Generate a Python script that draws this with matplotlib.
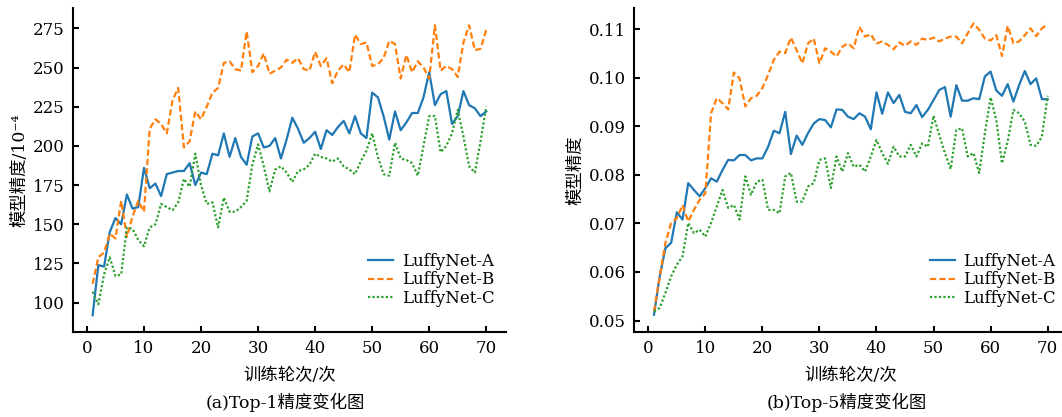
import numpy as np
import matplotlib
matplotlib.use("Agg")
import matplotlib.pyplot as plt

plt.rcParams['font.family'] = ['DejaVu Serif', 'Noto Sans CJK SC']
plt.rcParams['axes.unicode_minus'] = False

epochs = list(range(1, 71))
series_names = ["LuffyNet-A", "LuffyNet-B", "LuffyNet-C"]

# Top-1 (x10^-4)
top1_a = [92, 124, 123, 145, 154, 150, 169, 160, 161, 186,
          173, 176, 168, 182, 183, 184, 184, 189, 175, 183,
          182, 195, 194, 208, 193, 205, 193, 188, 206, 208,
          199, 200, 205, 192, 204, 218, 211, 202, 205, 209,
          198, 210, 207, 212, 216, 208, 219, 208, 205, 234,
          231, 219, 204, 222, 210, 215, 221, 221, 231, 247,
          226, 233, 235, 214, 219, 235, 226, 224, 219, 222]
top1_b = [112, 129, 132, 144, 141, 165, 142, 155, 165, 158,
          211, 217, 214, 208, 229, 237, 199, 203, 222, 217,
          225, 234, 237, 253, 254, 249, 248, 273, 247, 251,
          259, 246, 248, 250, 255, 253, 256, 249, 248, 260,
          251, 256, 240, 248, 252, 247, 271, 265, 266, 251,
          252, 256, 267, 265, 243, 258, 247, 254, 250, 243,
          277, 248, 251, 249, 244, 266, 277, 261, 262, 274]
top1_c = [107, 99, 118, 129, 117, 118, 148, 147, 140, 136,
          148, 150, 163, 161, 159, 164, 179, 174, 195, 175,
          163, 164, 148, 167, 158, 158, 161, 165, 188, 201,
          187, 171, 185, 187, 183, 177, 184, 185, 188, 195,
          193, 192, 190, 192, 187, 185, 182, 190, 197, 208,
          193, 182, 181, 202, 192, 191, 189, 181, 200, 219,
          219, 196, 200, 208, 223, 206, 187, 183, 203, 225]

# Top-5
top5_a = [0.0512, 0.0591, 0.0649, 0.0660, 0.0723, 0.0708, 0.0783, 0.0769, 0.0756, 0.0773,
          0.0793, 0.0786, 0.0810, 0.0831, 0.0830, 0.0841, 0.0841, 0.0830, 0.0834, 0.0834,
          0.0858, 0.0891, 0.0886, 0.0930, 0.0843, 0.0881, 0.0862, 0.0886, 0.0906, 0.0915,
          0.0913, 0.0898, 0.0935, 0.0934, 0.0920, 0.0915, 0.0927, 0.0920, 0.0894, 0.0970,
          0.0926, 0.0970, 0.0948, 0.0965, 0.0930, 0.0927, 0.0944, 0.0919, 0.0934, 0.0954,
          0.0975, 0.0981, 0.0920, 0.0985, 0.0953, 0.0953, 0.0958, 0.0956, 0.1003, 0.1013,
          0.0974, 0.0963, 0.0987, 0.0951, 0.0985, 0.1014, 0.0987, 0.0999, 0.0956, 0.0956]
top5_b = [0.0519, 0.0591, 0.0660, 0.0701, 0.0711, 0.0738, 0.0704, 0.0728, 0.0749, 0.0762,
          0.0927, 0.0958, 0.0948, 0.0935, 0.1011, 0.0999, 0.0941, 0.0958, 0.0963, 0.0979,
          0.1006, 0.1037, 0.1054, 0.1051, 0.1083, 0.1057, 0.1030, 0.1071, 0.1081, 0.1030,
          0.1061, 0.1054, 0.1044, 0.1064, 0.1071, 0.1061, 0.1105, 0.1085, 0.1090, 0.1071,
          0.1075, 0.1068, 0.1059, 0.1073, 0.1066, 0.1075, 0.1068, 0.1081, 0.1078, 0.1083,
          0.1075, 0.1081, 0.1085, 0.1085, 0.1071, 0.1092, 0.1112, 0.1099, 0.1081, 0.1077,
          0.1088, 0.1045, 0.1107, 0.1071, 0.1075, 0.1088, 0.1102, 0.1086, 0.1102, 0.1111]
top5_c = [0.0519, 0.0526, 0.0557, 0.0591, 0.0615, 0.0632, 0.0701, 0.0680, 0.0687, 0.0673,
          0.0701, 0.0735, 0.0769, 0.0732, 0.0738, 0.0708, 0.0797, 0.0759, 0.0786, 0.0790,
          0.0728, 0.0728, 0.0721, 0.0797, 0.0804, 0.0745, 0.0745, 0.0776, 0.0783, 0.0831,
          0.0834, 0.0773, 0.0838, 0.0807, 0.0845, 0.0817, 0.0821, 0.0807, 0.0838, 0.0872,
          0.0845, 0.0823, 0.0858, 0.0838, 0.0838, 0.0862, 0.0838, 0.0865, 0.0858, 0.0922,
          0.0882, 0.0845, 0.0812, 0.0893, 0.0896, 0.0838, 0.0845, 0.0804, 0.0886, 0.0960,
          0.0913, 0.0824, 0.0869, 0.0934, 0.0927, 0.0910, 0.0862, 0.0860, 0.0879, 0.0963]

top1_yticks = [100, 125, 150, 175, 200, 225, 250, 275]
top5_yticks = [0.05, 0.06, 0.07, 0.08, 0.09, 0.10, 0.11]
xticks = [0, 10, 20, 30, 40, 50, 60, 70]

colors = ['#1f77b4', '#ff7f0e', '#2ca02c']
styles = ['-', (0, (2.8, 1.4)), (0, (1, 1))]

fig = plt.figure(figsize=(10.62, 4.17), dpi=100)
ax1 = fig.add_axes([0.0687, 0.2046, 0.4077, 0.7763])
ax2 = fig.add_axes([0.5973, 0.2046, 0.4077, 0.7763])


def draw(ax, data, yticks, ylim, ylabel, caption, fmt):
    for d, c, ls, name in zip(data, colors, styles, series_names):
        ax.plot(epochs, d, color=c, linestyle=ls, lw=1.6, label=name)
    ax.set_xlim(-2.45, 73.45)
    ax.set_ylim(*ylim)
    ax.set_xticks(xticks)
    ax.set_yticks(yticks)
    ax.set_yticklabels([fmt(v) for v in yticks])
    for s in ['top', 'right']:
        ax.spines[s].set_visible(False)
    for s in ['left', 'bottom']:
        ax.spines[s].set_linewidth(1.5)
    ax.tick_params(direction='in', length=4, width=1.5, labelsize=12, pad=6)
    ax.set_ylabel(ylabel, fontsize=12.5, labelpad=3)
    ax.text(0.5, -0.134, "训练轮次/次", transform=ax.transAxes, ha='center', va='center', fontsize=12.5)
    ax.text(0.49, -0.217, caption, transform=ax.transAxes, ha='center', va='center', fontsize=12.5)
    ax.legend(loc='lower right', bbox_to_anchor=(1.0, 0.04), frameon=False, fontsize=12,
              handlelength=1.5, handletextpad=0.5, labelspacing=0.1, borderpad=0.2)


draw(ax1, [top1_a, top1_b, top1_c], top1_yticks, (81.5, 288), "模型精度/10⁻⁴",
     "(a)Top-1精度变化图", lambda v: f"{v}")
draw(ax2, [top5_a, top5_b, top5_c], top5_yticks, (0.0477, 0.1144), "模型精度",
     "(b)Top-5精度变化图", lambda v: f"{v:.2f}")

fig.savefig("out.png", dpi=100)
